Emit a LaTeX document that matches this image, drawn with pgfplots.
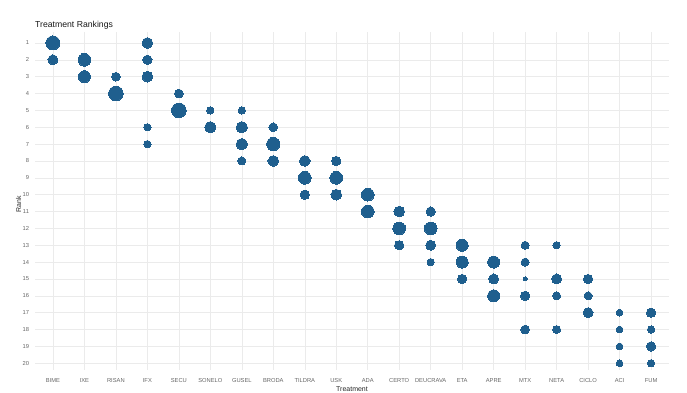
\documentclass[border=0pt]{standalone}
\usepackage{pgfplots}
\pgfplotsset{compat=1.18}
\usepackage{pgfplotstable}
\usepackage{fontspec}
\setmainfont{Liberation Sans}
\definecolor{bub}{HTML}{1F5F8E}
\definecolor{gridc}{HTML}{EBEBEB}
\definecolor{tickc}{HTML}{666666}
\pgfplotstableread{
x y d
0 1 14
0 2 10
1 2 12.7
1 3 12
2 3 8.7
2 4 14.7
3 1 10.7
3 2 9.3
3 3 10.7
3 6 7.3
3 7 7.3
4 4 8.7
4 5 14.7
5 5 7.3
5 6 11.3
6 5 7.3
6 6 11.3
6 7 11.3
6 8 8
7 6 8.7
7 7 13.3
7 8 10.7
8 8 10.7
8 9 12.7
8 10 9.3
9 8 9.3
9 9 12.7
9 10 10.7
10 10 12.7
10 11 12.7
11 11 10.7
11 12 12.7
11 13 9.3
12 11 9.3
12 12 12.7
12 13 10
12 14 7.3
13 13 12
13 14 12
13 15 9.3
14 14 12
14 15 10
14 16 12
15 13 8
15 14 8
15 15 4
15 16 9.3
15 18 8.7
16 13 7.3
16 15 10
16 16 8
16 18 8
17 15 9.3
17 16 8
17 17 10
18 17 6.7
18 18 6.7
18 19 6.7
18 20 6.7
19 17 9.3
19 18 7.3
19 19 9.3
19 20 7.3
}\data
\begin{document}
\begin{tikzpicture}
\begin{axis}[
  at={(0,0)}, anchor=south west,
  scale only axis, width=634bp, height=338bp,
  xmin=-0.57, xmax=19.57, ymin=0.35, ymax=20.4, y dir=reverse,
  xtick={0,...,19},
  xticklabels={BIME,IXE,RISAN,IFX,SECU,SONELO,GUSEL,BRODA,TILDRA,USK,ADA,CERTO,DEUCRAVA,ETA,APRE,MTX,NETA,CICLO,ACI,FUM},
  ytick={1,...,20},
  axis line style={draw=none}, tick style={draw=none},
  grid=major, major grid style={draw=gridc, line width=0.5bp},
  ticklabel style={font=\fontsize{5.8}{6}\selectfont, text=tickc},
  xticklabel style={yshift=-4.5bp},
  yticklabel style={xshift=-2.5bp},
  /pgf/number format/assume math mode=true,
  clip=false,
]
\addplot[scatter, only marks, mark=*, color=bub,
  mark options={draw=bub, fill=bub, line width=0pt},
  visualization depends on={\thisrow{d} \as \diam},
  scatter/@pre marker code/.code={\pgfmathsetmacro\rad{\diam/2}\begin{scope}[mark size=\rad bp, fill=bub, draw=bub, line width=0pt]},
  scatter/@post marker code/.code={\end{scope}},
  point meta=\thisrow{d}]
  table[x=x, y=y] {\data};
\node[rotate=90, font=\fontsize{7}{8}\selectfont, text=black!85] at (axis description cs:-0.026,0.49) {Rank};
\node[font=\fontsize{7}{8}\selectfont, text=black!85] at (axis description cs:0.5,-0.0562) {Treatment};
\node[anchor=base west, inner sep=0pt, font=\fontsize{8.7}{10}\selectfont, text=black!90] at (axis description cs:0,1.0148) {Treatment Rankings};
\end{axis}
\pgfresetboundingbox
\useasboundingbox (-35bp,-23bp) rectangle (652bp,370bp);
\end{tikzpicture}
\end{document}
